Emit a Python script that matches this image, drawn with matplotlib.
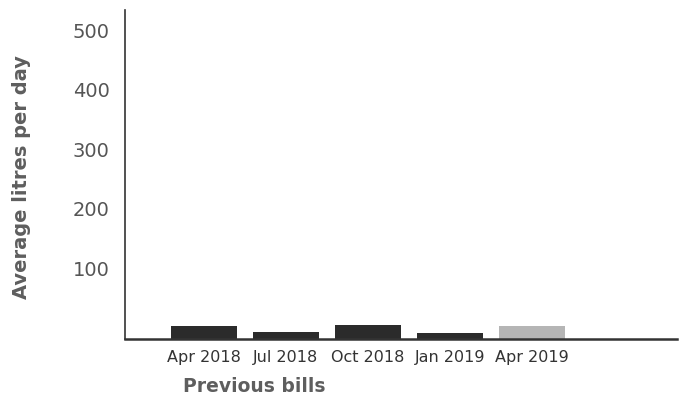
import matplotlib.pyplot as plt

bills = ["Apr 2018", "Jul 2018", "Oct 2018", "Jan 2019", "Apr 2019"]
litres = [22, 12, 24, 10, 22]
bar_colors = ["#2b2b2b", "#2b2b2b", "#2b2b2b", "#2b2b2b", "#b5b5b5"]
y_ticks = [100, 200, 300, 400, 500]

base = -19

fig = plt.figure(figsize=(6.83, 4.05), dpi=100)
ax = fig.add_axes([125 / 683, 1 - 339 / 405, (677 - 125) / 683, (339 - 10) / 405])

ax.bar(range(len(bills)), litres, bottom=base, width=0.8, color=bar_colors)
ax.set_xlim(-0.96, 5.77)
ax.set_ylim(base, 533.6)

ax.set_yticks(y_ticks)
ax.set_yticklabels([str(t) for t in y_ticks], fontsize=14, color="#555555")
ax.set_xticks(range(len(bills)))
ax.set_xticklabels(bills, fontsize=11.5, color="#333333")
ax.tick_params(axis="both", length=0)
ax.tick_params(axis="y", pad=11)
ax.tick_params(axis="x", pad=8)

for side in ["top", "right"]:
    ax.spines[side].set_visible(False)
ax.spines["left"].set_linewidth(1.2)
ax.spines["bottom"].set_linewidth(1.8)
ax.spines["left"].set_color("#333333")
ax.spines["bottom"].set_color("#333333")

fig.text(22 / 683, 1 - 177 / 405, "Average litres per day", fontsize=14, fontweight="bold",
         color="#5e5e5e", rotation=90, ha="center", va="center")
fig.text(254 / 683, 1 - 386 / 405, "Previous bills", fontsize=13.5, fontweight="bold",
         color="#5e5e5e", ha="center", va="center")

plt.savefig("out.png")
